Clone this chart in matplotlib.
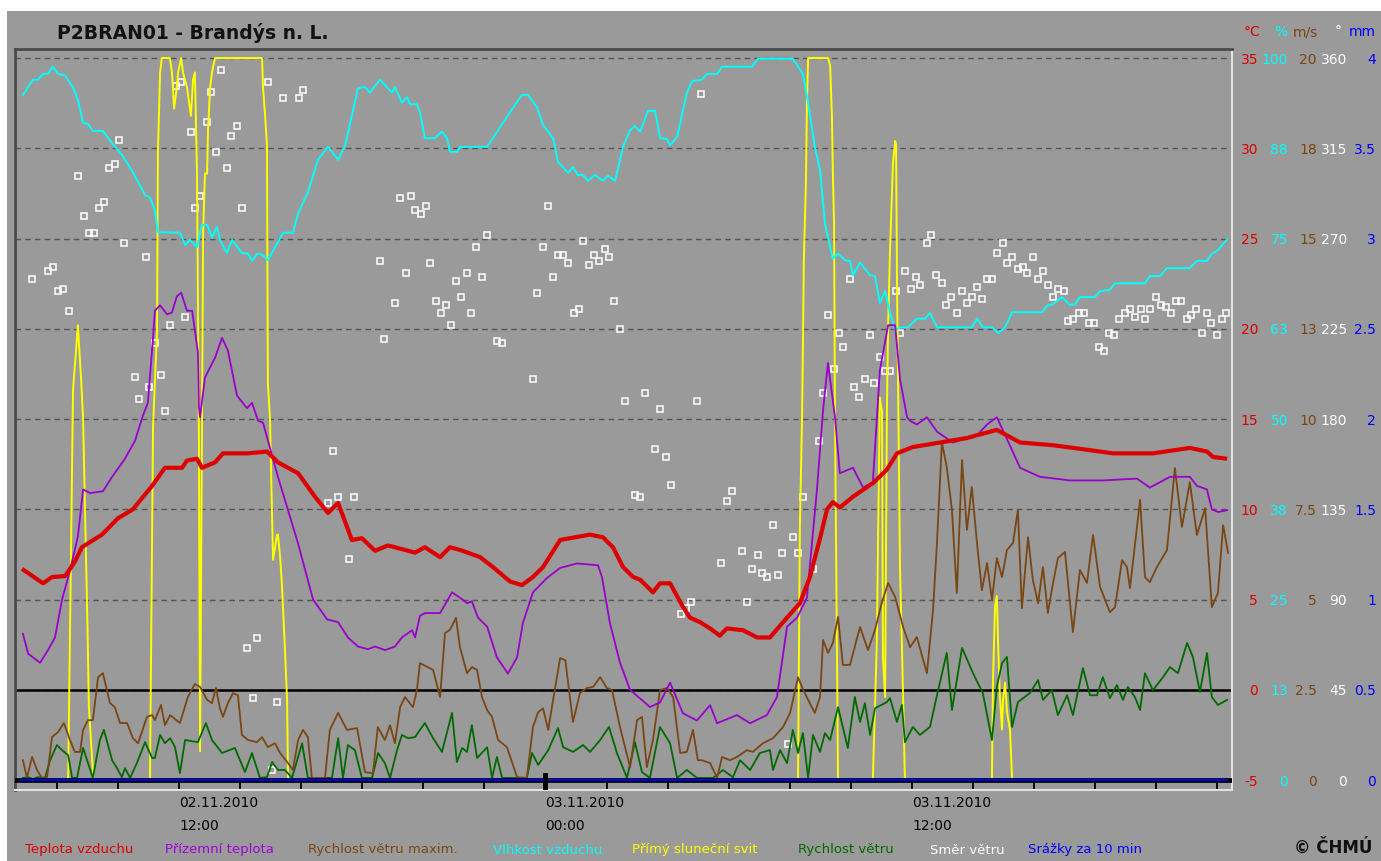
import matplotlib
matplotlib.use('Agg')
import matplotlib.pyplot as plt
from matplotlib.patches import Rectangle
from matplotlib.transforms import blended_transform_factory

# time is hours since 02.11.2010 00:00

# Teplota vzduchu (deg C)
temp_h = [6.86, 7.55, 7.84, 8.27, 8.59, 8.82, 9.48, 10.0, 10.49, 11.12,
          11.54, 12.1, 12.26, 12.59, 12.75, 13.18, 13.44, 14.26, 14.88, 15.24,
          15.9, 16.45, 16.88, 17.21, 17.66, 17.99, 18.42, 18.84, 19.73, 20.05,
          20.55, 20.87, 21.2, 21.86, 22.28, 22.84, 23.23, 23.59, 23.92, 24.48,
          25.13, 25.46, 25.88, 26.21, 26.54, 26.87, 27.1, 27.52, 27.75, 28.08,
          28.5, 28.73, 29.06, 29.39, 29.71, 29.94, 30.47, 30.93, 31.35, 31.91,
          32.33, 32.66, 32.99, 33.22, 33.41, 33.64, 34.07, 34.72, 35.18, 35.51,
          36.03, 36.92, 37.8, 38.78, 39.54, 40.62, 41.73, 42.58, 43.89, 45.1,
          45.66, 45.86, 46.32]
temp_c = [6.7, 5.9, 6.25, 6.3, 7.1, 7.9, 8.6, 9.5, 10.0, 11.3,
          12.3, 12.3, 12.7, 12.8, 12.3, 12.6, 13.1, 13.1, 13.2, 12.6,
          12.0, 10.7, 9.8, 10.35, 8.3, 8.4, 7.7, 8.0, 7.6, 7.9,
          7.35, 7.9, 7.75, 7.35, 6.8, 6.0, 5.8, 6.25, 6.8, 8.3,
          8.5, 8.6, 8.45, 7.9, 6.8, 6.25, 6.1, 5.4, 5.9, 5.9,
          4.6, 4.0, 3.75, 3.4, 3.0, 3.4, 3.3, 2.9, 2.9, 4.0,
          4.8, 6.25, 8.4, 10.0, 10.4, 10.1, 10.7, 11.45, 12.2, 13.1,
          13.45, 13.7, 13.95, 14.4, 13.7, 13.55, 13.3, 13.1, 13.1, 13.4,
          13.2, 12.9, 12.8]

# Prizemni teplota (deg C)
ground_h = [6.89, 7.06, 7.45, 7.71, 7.94, 8.17, 8.43, 8.69, 8.86, 9.09,
            9.51, 9.81, 10.23, 10.56, 10.8, 10.98, 11.15, 11.21, 11.38, 11.61,
            11.77, 11.93, 12.07, 12.26, 12.43, 12.62, 12.65, 12.69, 12.85, 13.18,
            13.41, 13.6, 13.9, 14.23, 14.39, 14.59, 14.75, 15.24, 15.9, 16.39,
            16.85, 17.21, 17.53, 17.86, 18.19, 18.42, 18.75, 19.07, 19.3, 19.63,
            19.73, 19.89, 20.05, 20.55, 20.94, 21.2, 21.43, 21.59, 21.79, 22.09,
            22.41, 22.77, 23.07, 23.26, 23.59, 24.05, 24.48, 25.03, 25.72, 25.85,
            26.11, 26.44, 26.77, 27.42, 27.75, 28.08, 28.5, 28.96, 29.39, 29.62,
            30.27, 30.7, 31.25, 31.58, 31.91, 32.24, 32.56, 32.89, 33.09, 33.25,
            33.48, 33.64, 34.07, 34.4, 34.72, 34.95, 35.22, 35.45, 35.61, 35.84,
            35.94, 36.16, 36.49, 36.82, 37.34, 38.13, 38.46, 38.78, 39.11, 39.54,
            40.19, 41.17, 42.25, 43.37, 43.79, 44.45, 45.1, 45.33, 45.66, 45.82,
            46.02, 46.32]
ground_c = [3.1, 2.0, 1.5, 2.2, 2.9, 5.0, 6.6, 8.5, 11.1, 10.9,
            11.0, 11.8, 12.8, 13.8, 15.1, 15.9, 19.5, 21.0, 21.3, 20.8,
            20.9, 21.8, 22.0, 21.0, 21.0, 18.7, 15.7, 15.1, 17.3, 18.4,
            19.5, 18.8, 16.3, 15.6, 15.9, 14.9, 14.8, 11.8, 8.1, 5.0,
            3.9, 3.75, 2.9, 2.4, 2.25, 2.4, 2.2, 2.4, 2.9, 3.3,
            2.9, 4.1, 4.25, 4.25, 5.4, 5.1, 4.8, 4.9, 4.0, 3.5,
            1.8, 0.9, 1.8, 3.7, 5.4, 6.2, 6.75, 7.0, 6.9, 6.25,
            3.7, 1.5, 0.0, -0.95, -0.7, 0.4, -1.3, -1.7, -0.85, -1.85,
            -1.4, -1.85, -1.4, -0.4, 3.5, 4.0, 5.1, 11.1, 15.5, 18.1,
            15.1, 12.0, 12.3, 11.2, 11.5, 17.7, 20.2, 20.2, 17.2, 15.1,
            14.9, 14.7, 15.1, 14.3, 13.7, 14.1, 14.7, 15.1, 13.9, 12.3,
            11.8, 11.6, 11.6, 11.7, 11.2, 11.8, 11.8, 11.3, 11.1, 10.0,
            9.85, 9.95]

# Rychlost vetru maxim. (m/s)
gust_h = [6.89, 7.02, 7.19, 7.35, 7.51, 7.68, 7.84, 8.04, 8.23, 8.43,
          8.59, 8.76, 8.86, 9.02, 9.18, 9.35, 9.51, 9.74, 9.9, 10.07,
          10.3, 10.49, 10.66, 10.95, 11.12, 11.21, 11.41, 11.54, 11.71, 12.03,
          12.29, 12.52, 12.69, 12.92, 13.08, 13.21, 13.34, 13.44, 13.6, 13.77,
          13.93, 14.06, 14.26, 14.55, 14.72, 14.91, 15.14, 15.31, 15.57, 15.73,
          15.9, 16.06, 16.22, 16.35, 16.78, 16.94, 17.21, 17.5, 17.83, 18.09,
          18.35, 18.51, 18.74, 18.91, 19.07, 19.24, 19.4, 19.66, 19.79, 19.89,
          20.32, 20.55, 20.71, 20.87, 21.07, 21.2, 21.43, 21.59, 21.76, 21.92,
          22.09, 22.25, 22.45, 22.74, 23.07, 23.39, 23.59, 23.76, 23.92, 24.09,
          24.25, 24.48, 24.65, 24.9, 25.13, 25.36, 25.56, 25.79, 26.01, 26.18,
          26.44, 26.77, 27.0, 27.16, 27.32, 27.52, 27.75, 27.98, 28.18, 28.41,
          28.63, 28.83, 28.99, 29.12, 29.39, 29.62, 29.78, 30.04, 30.27, 30.6,
          30.79, 31.12, 31.45, 31.78, 32.01, 32.27, 32.4, 32.6, 32.82, 32.99,
          33.09, 33.25, 33.41, 33.58, 33.74, 33.97, 34.3, 34.56, 34.79, 35.02,
          35.22, 35.45, 35.71, 35.94, 36.16, 36.49, 36.69, 36.82, 36.98, 37.14,
          37.31, 37.47, 37.64, 37.8, 37.96, 38.13, 38.29, 38.46, 38.62, 38.78,
          38.95, 39.11, 39.31, 39.47, 39.6, 39.8, 39.96, 40.13, 40.29, 40.45,
          40.62, 40.78, 41.01, 41.27, 41.5, 41.73, 41.93, 42.16, 42.48, 42.65,
          42.88, 43.04, 43.14, 43.47, 43.63, 43.79, 44.02, 44.35, 44.61, 44.84,
          45.1, 45.33, 45.6, 45.82, 46.02, 46.19, 46.35]
gust_ms = [0.55, 0.06, 0.64, 0.28, 0.06, 0.08, 1.19, 1.33, 1.58, 1.11,
           0.78, 0.78, 1.39, 1.66, 1.66, 2.85, 2.96, 2.13, 2.02, 1.58,
           1.58, 1.16, 1.02, 1.75, 1.8, 1.66, 2.08, 1.52, 1.8, 1.58,
           2.3, 2.66, 2.58, 2.22, 2.13, 2.55, 1.99, 1.75, 2.13, 2.41,
           2.35, 1.25, 1.11, 1.05, 1.19, 0.91, 1.02, 0.75, 0.47, 0.28,
           1.11, 1.39, 1.19, 0.06, 0.06, 1.39, 1.86, 1.39, 1.44, 0.22,
           0.19, 1.47, 1.11, 1.52, 1.02, 2.02, 2.3, 2.02, 2.49, 3.24,
           3.05, 2.3, 4.07, 4.16, 4.49, 3.68, 2.96, 3.13, 3.05, 2.3,
           1.94, 1.75, 1.11, 0.91, 0.08, 0.06, 1.47, 1.88, 1.99, 1.39,
           2.22, 3.38, 3.32, 1.61, 2.41, 2.55, 2.58, 2.85, 2.55, 2.49,
           1.47, 0.36, 1.66, 1.75, 0.36, 1.11, 2.49, 2.55, 2.3, 0.75,
           0.78, 1.39, 0.55, 0.55, 0.47, 0.06, 0.64, 0.55, 0.64, 0.83,
           0.78, 1.02, 1.16, 1.47, 1.86, 2.85, 2.58, 2.22, 1.86, 2.3,
           3.88, 3.52, 3.8, 4.52, 3.19, 3.19, 4.24, 3.6, 4.16, 4.93,
           5.46, 5.07, 4.24, 3.68, 3.96, 2.96, 4.71, 6.57, 9.36, 8.67,
           7.48, 5.18, 8.86, 6.93, 8.12, 6.57, 5.26, 6.01, 4.99, 6.15,
           5.62, 6.37, 6.57, 7.48, 4.76, 6.73, 5.54, 4.9, 5.9, 4.63,
           5.46, 6.15, 6.32, 4.1, 5.82, 5.46, 6.79, 5.35, 4.65, 4.79,
           6.09, 5.9, 5.32, 7.76, 5.62, 5.48, 5.9, 6.37, 8.64, 7.01,
           8.25, 6.79, 7.53, 4.79, 5.18, 7.06, 6.29]

# Vlhkost vzduchu (%)
hum_h = [6.89, 7.22, 7.38, 7.55, 7.71, 7.87, 8.04, 8.27, 8.53, 8.69,
         8.86, 9.02, 9.18, 9.51, 9.81, 10.13, 10.49, 10.89, 11.05, 11.21,
         11.31, 12.03, 12.2, 12.36, 12.59, 12.75, 12.92, 13.08, 13.24, 13.34,
         13.57, 13.74, 14.06, 14.26, 14.39, 14.55, 14.75, 14.91, 15.24, 15.41,
         15.73, 15.9, 16.22, 16.55, 16.88, 17.21, 17.44, 17.86, 18.09, 18.25,
         18.58, 18.97, 19.07, 19.3, 19.47, 19.56, 19.79, 19.89, 20.05, 20.38,
         20.61, 20.78, 20.87, 21.1, 21.2, 22.09, 22.51, 22.84, 23.23, 23.43,
         23.72, 23.92, 24.25, 24.41, 24.74, 24.9, 25.06, 25.23, 25.39, 25.62,
         25.88, 26.05, 26.28, 26.54, 26.77, 26.93, 27.1, 27.36, 27.59, 27.75,
         27.98, 28.08, 28.31, 28.63, 28.8, 29.12, 29.29, 29.62, 29.78, 30.76,
         30.96, 32.1, 32.43, 32.6, 32.82, 32.99, 33.15, 33.41, 33.58, 33.81,
         33.97, 34.07, 34.3, 34.63, 34.79, 34.95, 35.12, 35.28, 35.45, 35.61,
         35.87, 36.16, 36.43, 36.59, 36.82, 37.96, 38.13, 38.32, 38.62, 38.82,
         39.05, 39.28, 40.26, 40.45, 40.62, 40.91, 41.17, 41.34, 41.5, 41.99,
         42.16, 42.48, 42.65, 43.63, 43.79, 44.12, 44.35, 45.1, 45.33, 45.66,
         45.82, 46.02, 46.32]
hum_pct = [94.9, 97.0, 97.0, 97.8, 97.8, 98.8, 97.8, 97.6, 95.9, 94.2,
           91.0, 90.9, 89.9, 89.9, 88.2, 86.6, 84.2, 81.0, 80.7, 78.9,
           75.9, 75.8, 74.1, 74.8, 73.8, 76.9, 76.9, 75.1, 76.6, 74.8,
           73.0, 74.8, 73.0, 72.9, 71.9, 72.9, 72.7, 72.0, 74.5, 75.8,
           75.8, 78.5, 81.4, 85.9, 87.7, 85.9, 87.9, 95.8, 96.0, 95.2,
           97.0, 95.2, 96.0, 93.8, 94.6, 93.6, 93.6, 92.5, 88.9, 88.9,
           89.8, 88.9, 87.0, 87.0, 87.7, 87.7, 90.4, 92.5, 94.9, 94.9,
           93.2, 90.7, 88.9, 85.6, 84.1, 84.9, 83.8, 83.8, 83.0, 83.8,
           83.0, 83.7, 83.0, 87.7, 90.0, 90.6, 89.8, 92.7, 92.7, 88.9,
           88.8, 87.9, 89.1, 95.2, 96.8, 97.0, 97.8, 97.8, 98.8, 98.8,
           99.9, 99.9, 97.8, 93.8, 87.7, 84.5, 77.1, 72.2, 72.9, 72.0,
           71.9, 69.9, 71.7, 69.9, 69.8, 66.1, 67.7, 64.7, 62.3, 62.7,
           62.7, 63.9, 63.9, 64.7, 62.7, 62.7, 63.9, 62.7, 62.7, 61.9,
           62.7, 64.8, 64.8, 65.8, 65.9, 66.9, 65.8, 65.9, 66.9, 66.9,
           67.7, 67.9, 68.8, 68.8, 69.8, 69.8, 70.9, 70.9, 71.9, 71.9,
           72.9, 73.4, 74.9]

# Primy slunecni svit (minutes of sunshine per 10 min)
sun_h = [6.83, 8.37, 8.53, 8.69, 8.8, 8.86, 9.0, 9.05, 9.2,
         11.05, 11.15, 11.28, 11.31, 11.38, 11.44, 11.7, 11.77, 11.84, 11.93,
         11.97, 12.07, 12.13, 12.26, 12.39, 12.46, 12.52, 12.59, 12.65, 12.69,
         12.79, 12.85, 12.92, 12.95, 13.02, 13.08, 13.18, 14.72, 14.75, 14.82,
         14.88, 14.91, 14.98, 15.04, 15.08, 15.21, 15.24, 15.31, 15.37, 15.41,
         15.47, 15.54, 15.57,
         32.27, 32.33, 32.4, 32.43, 32.46, 32.53, 32.56, 32.6, 33.25, 33.32,
         33.38, 33.41, 33.45, 33.48, 33.58,
         34.72, 34.85, 34.89, 34.95, 35.02, 35.05, 35.12, 35.18, 35.22, 35.28,
         35.35, 35.38, 35.45, 35.48, 35.51, 35.61, 35.67, 35.77,
         38.62, 38.65, 38.72, 38.78, 38.82, 38.88, 38.95, 38.98, 39.05, 39.11,
         39.21, 39.28, 46.32]
sun_min = [0, 0, 5.4, 6.3, 5.5, 5.0, 2.2, 1.0, 0,
           0, 4.9, 6.2, 8.7, 9.8, 10, 10, 9.8, 9.3, 9.6,
           9.8, 10, 9.8, 9.6, 9.2, 9.7, 9.8, 8.4, 5.0, 0.4,
           7.6, 8.4, 8.4, 9.0, 9.6, 9.8, 10, 10, 9.6, 9.2,
           8.8, 5.5, 5.0, 3.8, 3.05, 3.4, 3.4, 3.1, 2.7, 2.35,
           1.8, 1.1, 0,
           0, 3.5, 5.0, 6.0, 7.2, 8.3, 9.35, 10, 10, 9.9,
           9.2, 8.4, 7.7, 5.0, 0,
           0, 1.9, 3.3, 5.3, 5.1, 1.7, 1.15, 5.1, 6.3, 7.3,
           8.2, 8.55, 8.85, 8.8, 6.9, 2.9, 1.9, 0,
           0, 1.3, 2.4, 2.55, 1.9, 1.15, 0.7, 1.1, 1.35, 0.95,
           0.7, 0, 0]

# Rychlost vetru (m/s)
wind_h = [6.89, 7.06, 7.22, 7.38, 7.61, 7.78, 8.0, 8.17, 8.37, 8.5,
          8.66, 8.86, 9.02, 9.18, 9.41, 9.54, 9.81, 9.97, 10.13, 10.23,
          10.4, 10.62, 10.89, 11.12, 11.21, 11.38, 11.54, 11.71, 11.87, 12.03,
          12.2, 12.62, 12.88, 13.08, 13.41, 13.83, 14.16, 14.39, 14.65, 14.88,
          15.05, 15.24, 15.47, 15.7, 16.03, 16.22, 17.01, 17.21, 17.37, 17.53,
          17.76, 17.99, 18.32, 18.52, 18.74, 18.91, 19.14, 19.3, 19.5, 19.73,
          19.89, 20.05, 20.32, 20.61, 20.94, 21.1, 21.27, 21.43, 21.59, 21.76,
          22.09, 22.25, 22.41, 22.58, 23.39, 23.56, 23.76, 24.09, 24.41, 24.58,
          24.9, 25.23, 25.46, 25.79, 26.08, 26.34, 26.67, 26.93, 27.16, 27.42,
          27.75, 28.08, 28.31, 28.63, 28.96, 29.49, 29.81, 30.14, 30.37, 30.7,
          31.02, 31.35, 31.45, 31.68, 31.91, 32.1, 32.27, 32.43, 32.6, 32.76,
          32.99, 33.15, 33.32, 33.58, 33.9, 34.13, 34.3, 34.46, 34.63, 34.79,
          35.18, 35.28, 35.51, 35.67, 35.77, 36.03, 36.26, 36.59, 36.82, 37.14,
          37.31, 37.64, 38.0, 38.32, 38.62, 38.78, 38.95, 39.11, 39.28, 39.47,
          39.86, 40.13, 40.29, 40.58, 40.78, 41.08, 41.27, 41.6, 41.83, 42.06,
          42.25, 42.48, 42.71, 42.91, 43.07, 43.3, 43.47, 43.63, 43.89, 44.22,
          44.45, 44.71, 45.01, 45.2, 45.43, 45.66, 45.82, 46.02, 46.32]
wind_ms = [0.06, 0.08, 0.03, 0.08, 0.06, 0.55, 0.97, 0.83, 0.69, 0.06,
           0.06, 0.89, 0.47, 0.06, 1.11, 1.39, 0.55, 0.33, 0.08, 0.33,
           0.06, 0.47, 1.05, 0.61, 0.61, 1.25, 1.02, 1.16, 0.91, 0.19,
           1.11, 1.05, 1.58, 1.11, 0.75, 0.89, 0.22, 0.75, 0.06, 0.08,
           0.5, 0.28, 0.28, 0.06, 1.02, 0.06, 0.06, 1.16, 0.06, 0.97,
           0.83, 0.06, 0.06, 0.75, 0.47, 0.06, 0.83, 1.25, 1.16, 1.19,
           1.39, 1.58, 1.16, 0.78, 1.86, 0.5, 0.89, 0.78, 1.52, 0.61,
           0.91, 0.06, 0.64, 0.06, 0.06, 0.75, 0.42, 0.83, 1.44, 0.91,
           0.78, 0.97, 0.78, 1.11, 1.47, 0.75, 0.06, 1.05, 0.22, 0.06,
           1.47, 1.02, 0.06, 0.28, 0.06, 0.06, 0.28, 0.08, 0.55, 0.28,
           0.75, 0.83, 0.28, 0.83, 0.47, 1.39, 0.75, 1.3, 0.06, 1.25,
           0.78, 1.3, 1.11, 2.02, 0.89, 2.3, 1.61, 2.13, 1.25, 1.99,
           2.16, 2.27, 1.61, 2.08, 1.05, 1.47, 1.25, 1.47, 2.35, 3.52,
           1.94, 3.66, 2.96, 2.41, 1.11, 2.58, 3.24, 3.41, 1.47, 2.16,
           2.41, 2.77, 2.22, 2.49, 1.8, 2.35, 1.8, 3.1, 2.35, 2.35,
           2.85, 2.27, 2.63, 2.22, 2.58, 2.3, 1.94, 2.96, 2.49, 2.85,
           3.13, 2.96, 3.8, 3.41, 2.44, 3.52, 2.3, 2.08, 2.22]

# Smer vetru (degrees)
dir_h = [7.19, 7.71, 7.87, 8.04, 8.20, 8.40, 8.69, 8.89, 9.05, 9.22,
         9.38, 9.54, 9.71, 9.90, 10.04, 10.20, 10.56, 10.69, 10.92, 11.02,
         11.21, 11.41, 11.54, 11.71, 11.90, 12.07, 12.20, 12.39, 12.52, 12.69,
         12.92, 13.05, 13.21, 13.38, 13.57, 13.70, 13.90, 14.06, 14.23, 14.42,
         14.55, 14.91, 15.05, 15.21, 15.41, 15.93, 16.06, 16.88, 17.04, 17.21,
         17.57, 17.73, 18.58, 18.71, 19.07, 19.24, 19.43, 19.60, 19.73, 19.92,
         20.09, 20.22, 20.42, 20.58, 20.74, 20.91, 21.07, 21.23, 21.43, 21.56,
         21.72, 21.92, 22.09, 22.41, 22.58, 23.59, 23.72, 23.92, 24.08, 24.25,
         24.41, 24.57, 24.74, 24.93, 25.10, 25.23, 25.42, 25.59, 25.75, 25.95,
         26.08, 26.24, 26.44, 26.60, 26.93, 27.09, 27.26, 27.59, 27.75, 27.95,
         28.11, 28.44, 28.60, 28.76, 28.96, 29.09, 29.75, 29.94, 30.11, 30.43,
         30.60, 30.76, 30.96, 31.09, 31.25, 31.45, 31.61, 31.74, 31.94, 32.10,
         32.27, 32.43, 32.76, 32.96, 33.09, 33.25, 33.45, 33.61, 33.74, 33.97,
         34.10, 34.27, 34.46, 34.63, 34.76, 34.95, 35.12, 35.28, 35.48, 35.61,
         35.77, 35.97, 36.13, 36.26, 36.49, 36.62, 36.79, 36.98, 37.11, 37.28,
         37.47, 37.64, 37.80, 37.97, 38.13, 38.29, 38.46, 38.62, 38.78, 38.98,
         39.11, 39.28, 39.47, 39.64, 39.77, 39.96, 40.13, 40.29, 40.45, 40.62,
         40.78, 40.98, 41.11, 41.27, 41.47, 41.63, 41.80, 41.96, 42.12, 42.29,
         42.45, 42.62, 42.78, 42.98, 43.14, 43.30, 43.50, 43.63, 43.79, 43.99,
         44.15, 44.32, 44.48, 44.65, 44.81, 45.01, 45.14, 45.30, 45.50, 45.66,
         45.79, 45.99, 46.15, 46.28]
dir_deg = [250, 254, 256, 244, 245, 234, 301, 281, 273, 273,
           285, 288, 305, 307, 319, 268, 201, 190, 261, 196,
           218, 202, 184, 227, 346, 348, 231, 323, 285, 291,
           328, 343, 313, 354, 305, 321, 326, 285, 66, 41,
           71, 348, 5, 39, 340, 340, 344, 138, 164, 141,
           110, 141, 259, 220, 238, 290, 253, 291, 284, 282,
           286, 258, 239, 233, 237, 227, 249, 241, 253, 233,
           266, 251, 272, 219, 218, 200, 243, 266, 286, 251,
           262, 262, 258, 233, 235, 269, 257, 262, 259, 265,
           261, 239, 225, 189, 142, 141, 193, 165, 185, 161,
           147, 83, 86, 89, 189, 342, 108, 139, 144, 114,
           89, 105, 112, 103, 101, 127, 102, 113, 18, 121,
           113, 141, 105, 169, 193, 232, 205, 223, 216, 250,
           196, 191, 200, 222, 198, 211, 204, 204, 244, 223,
           254, 245, 251, 247, 268, 272, 252, 248, 237, 241,
           233, 244, 238, 241, 246, 240, 250, 250, 263, 268,
           258, 261, 255, 256, 253, 261, 250, 254, 247, 241,
           245, 244, 229, 230, 233, 233, 228, 228, 216, 214,
           223, 222, 230, 233, 235, 231, 235, 230, 235, 241,
           237, 236, 233, 239, 239, 230, 232, 235, 223, 233,
           228, 222, 230, 233]

# Srazky za 10 min (mm)
rain_h = [6.83, 46.32]
rain_mm = [0.0, 0.0]

# right-hand scales, all drawn against the same -5..35 degC frame
t_ticks = [-5, 0, 5, 10, 15, 20, 25, 30, 35]
pct_labels = ['0', '13', '25', '38', '50', '63', '75', '88', '100']
ms_labels = ['0', '2.5', '5', '7.5', '10', '13', '15', '18', '20']
deg_labels = ['0', '45', '90', '135', '180', '225', '270', '315', '360']
mm_labels = ['0', '0.5', '1', '1.5', '2', '2.5', '3', '3.5', '4']

RED = '#dd0000'
PURPLE = '#9900cc'
BROWN = '#7a4614'
CYAN = '#00ffff'
YELLOW = '#ffff00'
GREEN = '#006a00'
BLUE = '#0000ff'
GRAY = '#9a9a9a'

W, H = 1381, 861
T_LO, T_HI = -5.55, 35.5

fig = plt.figure(figsize=(W / 100, H / 100), dpi=100)
fig.patch.set_facecolor('white')
fig.patches.append(Rectangle((7 / W, 0), 1, 1 - 11 / H, transform=fig.transFigure,
                             facecolor=GRAY, edgecolor='none', zorder=-1))

ax = fig.add_axes([15 / W, 1 - 790 / H, (1232 - 15) / W, (790 - 49) / H])
ax.patch.set_visible(False)
ax.set_xlim(6.63, 46.48)
ax.set_ylim(T_LO, T_HI)


def scale_axis(umax, z):
    # twin axis whose 0..umax spans the -5..35 degC range
    tw = ax.twinx()
    tw.set_ylim((T_LO + 5) * umax / 40, (T_HI + 5) * umax / 40)
    tw.set_zorder(z)
    for s in tw.spines.values():
        s.set_visible(False)
    return tw


ax_deg = scale_axis(360, 2)
ax_sun = scale_axis(10, 3)
ax_pct = scale_axis(100, 4)
ax_ms = scale_axis(20, 5)
ax_t = scale_axis(40, 6)
ax_t.set_ylim(T_LO, T_HI)
ax_mm = scale_axis(4, 7)

# grid and zero line
ax.grid(axis='y', color='#555555', linestyle=(0, (4, 3)), linewidth=1)
ax.axhline(0, color='black', linewidth=1.8)

ax_deg.plot(dir_h, dir_deg, linestyle='none', marker='s', markersize=3.8,
            markerfacecolor='none', markeredgecolor='white', markeredgewidth=1.1)
ax_sun.plot(sun_h, sun_min, color=YELLOW, linewidth=1.4)
ax_pct.plot(hum_h, hum_pct, color=CYAN, linewidth=1.4)
ax_ms.plot(wind_h, wind_ms, color=GREEN, linewidth=1.3)
ax_ms.plot(gust_h, gust_ms, color=BROWN, linewidth=1.3)
ax_t.plot(ground_h, ground_c, color=PURPLE, linewidth=1.3)
ax_t.plot(temp_h, temp_c, color=RED, linewidth=3.0, solid_capstyle='butt')
# base line of the precipitation scale, drawn over everything at the bottom
ax_mm.axhline(0, color='black', linewidth=3.4)
ax_mm.plot(rain_h, rain_mm, color='#0000e0', linewidth=1.6)

# frame
for side in ['left', 'top']:
    ax.spines[side].set_color('#4a4a4a')
    ax.spines[side].set_linewidth(2)
for side in ['right', 'bottom']:
    ax.spines[side].set_color('#e2e2e2')
    ax.spines[side].set_linewidth(1.5)

# x ticks every 2 hours, labels at 12 h steps
ax.set_xticks(range(8, 47, 2))
ax.tick_params(axis='x', direction='in', length=6.5, width=1.3, color='black',
               labelbottom=False)
ax_mm.axvline(24, 0, 0.02, color='black', linewidth=3.5)
xlab = blended_transform_factory(ax.transData, fig.transFigure)
for hr, day, clock in [(12, '02.11.2010', '12:00'), (24, '03.11.2010', '00:00'),
                       (36, '03.11.2010', '12:00')]:
    ax.text(hr, 1 - 803 / H, day, transform=xlab, ha='left', va='center', fontsize=10)
    ax.text(hr, 1 - 826 / H, clock, transform=xlab, ha='left', va='center', fontsize=10)

# right tick label columns
columns = [
    (ax, t_ticks, [str(v) for v in t_ticks], RED, 1258),
    (ax_pct, [0, 12.5, 25, 37.5, 50, 62.5, 75, 87.5, 100], pct_labels, CYAN, 1288),
    (ax_ms, [0, 2.5, 5, 7.5, 10, 12.5, 15, 17.5, 20], ms_labels, BROWN, 1317),
    (ax_deg, [0, 45, 90, 135, 180, 225, 270, 315, 360], deg_labels, 'white', 1347),
    (ax_mm, [0, 0.5, 1, 1.5, 2, 2.5, 3, 3.5, 4], mm_labels, BLUE, 1376),
]
for a in [ax_sun, ax_t]:
    a.set_yticks([])
for a, ticks, labels, color, right_px in columns:
    a.yaxis.tick_right()
    a.set_yticks(ticks)
    a.set_yticklabels(labels)
    a.tick_params(axis='y', length=0, pad=(right_px - 1232) * 0.72,
                  labelcolor=color, labelsize=10)
    for lab in a.get_yticklabels():
        lab.set_horizontalalignment('right')

units = [('°C', RED, 1260), ('%', CYAN, 1287), ('m/s', BROWN, 1318),
         ('°', 'white', 1342), ('mm', BLUE, 1376)]
for txt, color, right_px in units:
    fig.text(right_px / W, 1 - 32 / H, txt, color=color, ha='right', va='center', fontsize=10)

fig.text(57 / W, 1 - 33 / H, 'P2BRAN01 - Brandýs n. L.', fontsize=13.5,
         fontweight='bold', color='#111111', va='center')

legend = [('Teplota vzduchu', RED, 25), ('Přízemní teplota', '#a000d8', 165),
          ('Rychlost větru maxim.', BROWN, 308), ('Vlhkost vzduchu', CYAN, 493),
          ('Přímý sluneční svit', YELLOW, 632), ('Rychlost větru', GREEN, 798),
          ('Směr větru', 'white', 930), ('Srážky za 10 min', BLUE, 1028)]
for txt, color, left_px in legend:
    fig.text(left_px / W, 1 - 850 / H, txt, color=color, ha='left', va='center', fontsize=9.5)
fig.text(1294 / W, 1 - 848 / H, '© ČHMÚ', fontsize=12, fontweight='bold',
         color='#111111', ha='left', va='center')

fig.savefig('out.png', dpi=100, facecolor=fig.get_facecolor())
